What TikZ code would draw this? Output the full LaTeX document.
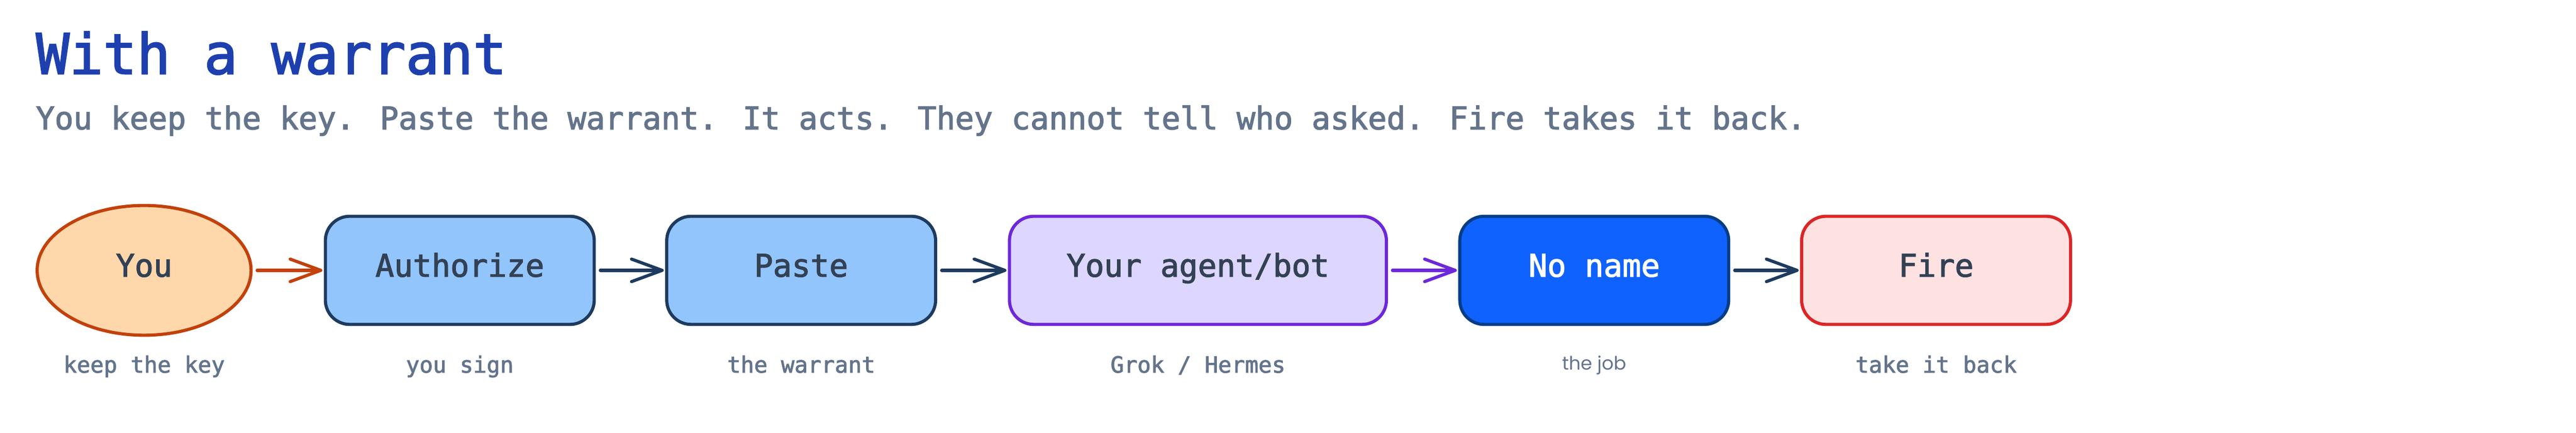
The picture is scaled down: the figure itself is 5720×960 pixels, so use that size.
\documentclass[tikz,border=0pt]{standalone}
\usepackage{fontspec}
\setmainfont{DejaVu Sans Mono}[FakeBold=2.2]
\newfontfamily\jobfont{Poppins}
\usetikzlibrary{arrows.meta,shapes.geometric}
\definecolor{titleblue}{HTML}{1E40AF}
\definecolor{subgray}{HTML}{64748B}
\definecolor{inktext}{HTML}{334155}
\definecolor{navy}{HTML}{1E3A5F}
\definecolor{youfill}{HTML}{FED7AA}
\definecolor{youline}{HTML}{C2410C}
\definecolor{bluefill}{HTML}{93C5FD}
\definecolor{agentfill}{HTML}{DDD6FE}
\definecolor{agentline}{HTML}{6D28D9}
\definecolor{nnfill}{HTML}{1062FE}
\definecolor{nnline}{HTML}{043D87}
\definecolor{firefill}{HTML}{FEE2E2}
\definecolor{fireline}{HTML}{DC2626}
\tikzset{
  nodetext/.style={font=\fontsize{17.3pt}{20pt}\selectfont, text=inktext, inner sep=0pt, text height=12pt, text depth=5pt, line width=1.75pt},
  stepbox/.style={nodetext, rectangle, rounded corners=13.5pt, minimum width=149.25pt, minimum height=60pt},
  sublabel/.style={font=\fontsize{12.4pt}{14pt}\selectfont, text=subgray, inner sep=0pt, anchor=base},
  flow/.style={line width=1.75pt, line cap=round, -{Straight Barb[length=17pt,width=12.5pt,line cap=round,line join=round]}, shorten <=2.5pt, shorten >=0.8pt},
}
\begin{document}
\begin{tikzpicture}[x=0.25pt,y=-0.25pt]
\useasboundingbox (0,0) rectangle (5720,960);
\fill[white] (0,0) rectangle (5720,960);
% title and subtitle
\node[anchor=base west, inner sep=0pt, text=titleblue, font=\fontsize{31pt}{36pt}\selectfont] (title) at (79,164) {With a warrant};
\node[anchor=base west, inner sep=0pt, text=subgray, font=\fontsize{17.3pt}{20pt}\selectfont] (subtitle) at (79,287) {You keep the key. Paste the warrant. It acts. They cannot tell who asked. Fire takes it back.};
% nodes
\node[nodetext, ellipse, draw=youline, fill=youfill, minimum width=118.75pt, minimum height=72pt] (you) at (320,600) {You};
\node[stepbox, draw=navy, fill=bluefill] (auth) at (1021,600) {Authorize};
\node[stepbox, draw=navy, fill=bluefill] (paste) at (1779,600) {Paste};
\node[stepbox, draw=agentline, fill=agentfill, minimum width=209.25pt] (agent) at (2660,600) {Your agent/bot};
\node[stepbox, draw=nnline, fill=nnfill, text=white] (noname) at (3540,600) {No name};
\node[stepbox, draw=fireline, fill=firefill] (fire) at (4299,600) {Fire};
% labels
\node[sublabel] (l1) at (320,827) {keep the key};
\node[sublabel] (l2) at (1021,827) {you sign};
\node[sublabel] (l3) at (1779,827) {the warrant};
\node[sublabel] (l4) at (2660,827) {Grok / Hermes};
\node[sublabel, font=\jobfont\fontsize{10.3pt}{12pt}\selectfont] (l5) at (3540,821) {the job};
\node[sublabel] (l6) at (4299,827) {take it back};
% connectors
\draw[flow, youline] (you.east) -- (auth.west);
\draw[flow, navy] (auth.east) -- (paste.west);
\draw[flow, navy] (paste.east) -- (agent.west);
\draw[flow, agentline] (agent.east) -- (noname.west);
\draw[flow, navy] (noname.east) -- (fire.west);
\end{tikzpicture}
\end{document}
